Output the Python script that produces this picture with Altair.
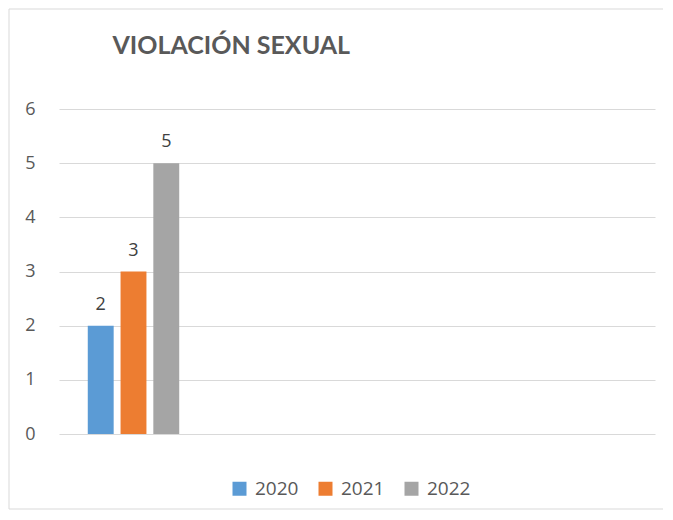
import altair as alt
import pandas as pd

title_text = "VIOLACIÓN SEXUAL"
years = ["2020", "2021", "2022"]
values = [2, 3, 5]
group = ["VIOLACIÓN SEXUAL", "VIOLACIÓN SEXUAL", "VIOLACIÓN SEXUAL"]
slots = ["VIOLACIÓN SEXUAL", "slot2", "slot3", "slot4"]
colors = ["#5B9BD5", "#ED7D31", "#A5A5A5"]

df = pd.DataFrame({"grupo": group, "anio": years, "valor": values})

FONT = "Open Sans"

x_enc = alt.X("grupo:N", scale=alt.Scale(domain=slots, paddingInner=0.34, paddingOuter=0.17), axis=None)
xo_enc = alt.XOffset("anio:N", scale=alt.Scale(domain=years, paddingInner=0.21, paddingOuter=0.105))
y_enc = alt.Y("valor:Q", scale=alt.Scale(domain=[0, 6]),
              axis=alt.Axis(values=[0, 1, 2, 3, 4, 5, 6], title=None, domain=False, ticks=False,
                            labelPadding=24, labelFontSize=18, labelFont=FONT, labelColor="#595959",
                            gridColor="#d9d9d9", gridWidth=1))

bars = alt.Chart(df).mark_bar().encode(
    x=x_enc, xOffset=xo_enc, y=y_enc,
    color=alt.Color("anio:N", scale=alt.Scale(domain=years, range=colors),
                    legend=alt.Legend(title=None, orient="none", direction="horizontal",
                                      legendX=171, legendY=370, symbolType="square", symbolSize=196,
                                      symbolStrokeWidth=0, labelFontSize=19, labelFont=FONT,
                                      labelColor="#595959", labelOffset=6, columnPadding=17)),
)

labels = alt.Chart(df).mark_text(baseline="alphabetic", dy=-16, fontSize=18, font=FONT, color="#404040").encode(
    x=x_enc, xOffset=xo_enc, y=y_enc, text="valor:Q"
)

frame = alt.Chart(alt.Data(values=[{"k": 1}])).mark_rect(fill=None, stroke="#d9d9d9", strokeWidth=1).encode(
    x=alt.value(-50), x2=alt.value(611), y=alt.value(-100), y2=alt.value(400)
)

chart = alt.layer(frame, bars, labels).properties(
    width=596, height=325,
    title=alt.TitleParams(title_text, anchor="start", dx=104, dy=70, fontSize=25, font="Lato",
                          fontWeight="bold", color="#595959", offset=0, baseline="alphabetic"),
    autosize=alt.AutoSizeParams(type="none"),
    padding={"left": 51, "top": 101, "right": 8, "bottom": 76},
).configure(background="white", view=alt.ViewConfig(stroke=None))

chart.save("out.html", embed_options={"renderer": "svg", "actions": False})
